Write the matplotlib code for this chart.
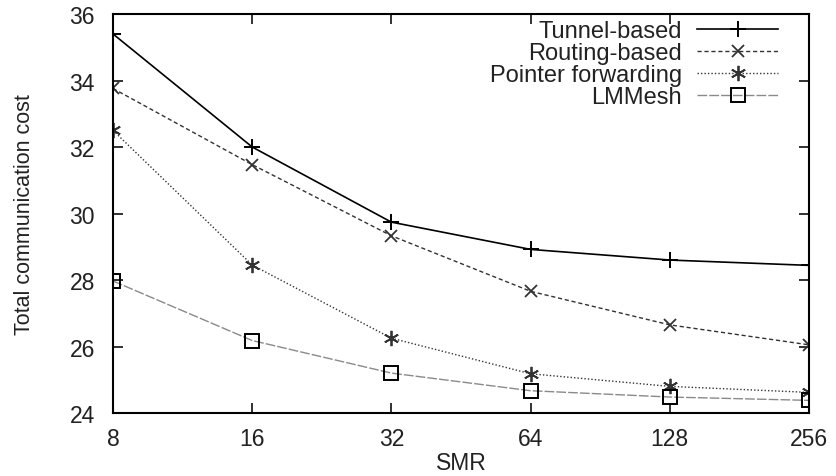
import numpy as np
import matplotlib.pyplot as plt

plt.rcParams['font.family'] = ['Liberation Sans', 'DejaVu Sans']

smr = [8, 16, 32, 64, 128, 256]
tunnel = [35.4, 32.0, 29.74, 28.92, 28.6, 28.44]
routing = [33.76, 31.47, 29.33, 27.66, 26.65, 26.05]
pointer = [32.5, 28.45, 26.25, 25.18, 24.8, 24.62]
lmmesh = [27.97, 26.18, 25.2, 24.67, 24.48, 24.38]

fig = plt.figure(figsize=(8.36, 4.77), dpi=100)
ax = fig.add_axes([113 / 836, 63 / 477, 696 / 836, 399 / 477])

# SMR doubles each step, so plot on log2 for even spacing
x = np.log2(smr)
ax.plot(x, tunnel, color='black', lw=1.2, ls='-', marker='+', ms=11, mew=1.4,
        label='Tunnel-based')
ax.plot(x, routing, color='#333333', lw=1.0, ls=(0, (3, 2)), marker='x', ms=9, mew=1.3,
        label='Routing-based')
ax.plot(x, pointer, color='#333333', lw=1.0, ls=(0, (1, 1.5)), marker=(6, 2, 0), ms=11, mew=1.3,
        label='Pointer forwarding')
ax.plot(x, lmmesh, color='#8a8a8a', lw=1.0, ls=(0, (7, 1.5)), marker='s', ms=10, mew=1.4,
        mfc='none', mec='black', label='LMMesh')

ax.set_xlim(3, 8)
ax.set_ylim(24, 36)
ax.set_xticks(x)
ax.set_xticklabels([str(s) for s in smr])
ax.set_yticks(range(24, 37, 2))
ax.tick_params(direction='in', top=True, right=True, length=7, width=1.3,
               labelsize=16.5, colors='#222222')
ax.tick_params(axis='y', pad=13)
ax.tick_params(axis='x', pad=10)
for sp in ax.spines.values():
    sp.set_linewidth(1.5)

ax.set_xlabel('SMR', fontsize=16.5, va='top', color='#222222')
ax.xaxis.set_label_coords(0.5, -0.095)
ax.set_ylabel('Total communication cost', fontsize=15.5, color='#222222')
ax.yaxis.set_label_coords(-0.112, 0.5)

# gnuplot-style key: text right-aligned, sample to the right
leg = ax.legend(loc='upper right', frameon=False, markerfirst=False, fontsize=17,
                handlelength=3.4, labelspacing=0.0, borderaxespad=0, borderpad=0,
                handletextpad=0.65, bbox_to_anchor=(0.955, 0.985))
for t in leg.get_texts():
    t.set_color('#222222')

fig.savefig('out.png', dpi=100)
